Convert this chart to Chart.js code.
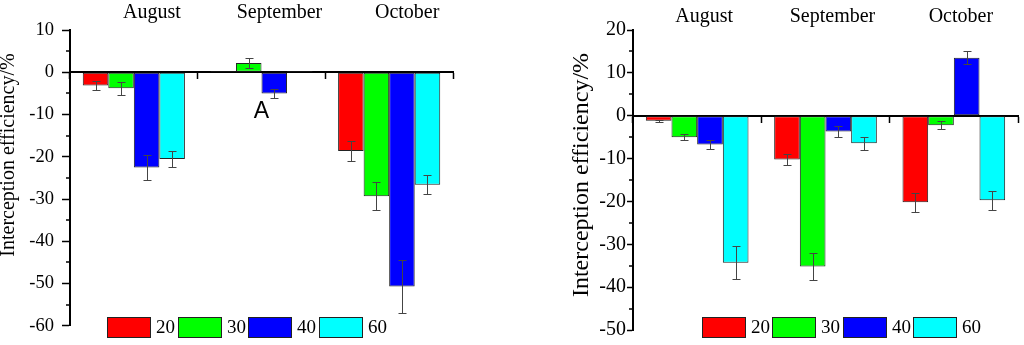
<!DOCTYPE html>
<html>
<head>
<meta charset="utf-8">
<script src="https://cdn.jsdelivr.net/npm/chart.js@4.4.1/dist/chart.umd.min.js"></script>
<style>
  html, body { margin: 0; padding: 0; background: #fff; }
  .panel { position: absolute; top: 0; width: 512px; height: 345px; }
  #panelA { left: 0; }
  #panelB { left: 512px; }
</style>
</head>
<body>
<div class="panel" id="panelA"><canvas id="chartA" width="512" height="345"></canvas></div>
<div class="panel" id="panelB"><canvas id="chartB" width="512" height="345"></canvas></div>
<script>
// categories and series
const months = ['August', 'September', 'October'];
const depths = ['20', '30', '40', '60'];
const barColors = ['#ff0000', '#00ff00', '#0000ff', '#00ffff'];

// left panel values (%) and errors
const leftVals20 = [-3.1, 0.3, -18.6];
const leftVals30 = [-3.8, 2.2, -29.3];
const leftVals40 = [-22.5, -5.0, -50.7];
const leftVals60 = [-20.5, 0.3, -26.6];
const leftErr20 = [1.1, 0, 2.3];
const leftErr30 = [1.5, 1.2, 3.3];
const leftErr40 = [3.0, 1.15, 6.2];
const leftErr60 = [1.8, 0, 2.2];

// right panel values (%) and errors
const rightVals20 = [-1.2, -10.2, -20.2];
const rightVals30 = [-5.0, -35.2, -2.2];
const rightVals40 = [-6.7, -3.7, 13.5];
const rightVals60 = [-34.3, -6.4, -19.7];
const rightErr20 = [0.2, 1.3, 2.2];
const rightErr30 = [0.7, 3.2, 1.0];
const rightErr40 = [1.0, 1.2, 1.5];
const rightErr60 = [3.8, 1.5, 2.2];

const leftTicks = { min: -60, max: 10 };
const rightTicks = { min: -50, max: 20 };
const axisTitle = 'Interception efficiency/%';

Chart.defaults.font.family = 'Liberation Serif';
Chart.defaults.color = '#000';

const errorBarPlugin = {
    id: 'errorBars',
    afterDatasetsDraw(chart, args, opts) {
        const ctx = chart.ctx;
        const y = chart.scales.y;
        ctx.save();
        ctx.strokeStyle = '#444';
        ctx.lineWidth = 1;
        chart.data.datasets.forEach((ds, i) => {
            const meta = chart.getDatasetMeta(i);
            meta.data.forEach((bar, j) => {
                const err = ds.errors[j];
                if (!err) return;
                const v = ds.data[j];
                const top = Math.round(y.getPixelForValue(v + err)) + 0.5;
                const bot = Math.round(y.getPixelForValue(v - err)) + 0.5;
                const x = Math.round(bar.x) + 0.5;
                ctx.beginPath();
                ctx.moveTo(x, top); ctx.lineTo(x, bot);
                ctx.moveTo(x - 4, top); ctx.lineTo(x + 4, top);
                ctx.moveTo(x - 4, bot); ctx.lineTo(x + 4, bot);
                ctx.stroke();
            });
        });
        ctx.restore();
    }
};

// minor ticks, rotated axis title, legend and the panel note
const decorPlugin = {
    id: 'decor',
    afterDraw(chart, args, o) {
        const ctx = chart.ctx;
        const y = chart.scales.y;
        const area = chart.chartArea;
        ctx.save();
        ctx.strokeStyle = '#000';
        ctx.lineWidth = 1.5;
        for (let v = y.min + 5; v < y.max; v += 10) {
            const py = Math.round(y.getPixelForValue(v));
            ctx.beginPath();
            ctx.moveTo(area.left - o.minorLen, py);
            ctx.lineTo(area.left, py);
            ctx.stroke();
        }

        ctx.fillStyle = '#000';
        ctx.font = o.titleSize + 'px "Liberation Serif"';
        ctx.textAlign = 'center';
        ctx.textBaseline = 'alphabetic';
        ctx.translate(o.titleX, o.titleY);
        ctx.rotate(-Math.PI / 2);
        ctx.fillText(axisTitle, 0, 0);
        ctx.setTransform(1, 0, 0, 1, 0, 0);

        // legend
        ctx.font = '19px "Liberation Serif"';
        ctx.textAlign = 'left';
        ctx.textBaseline = 'middle';
        ctx.lineWidth = 1;
        ctx.strokeStyle = '#222';
        chart.data.datasets.forEach((ds, i) => {
            const lx = Math.round(o.legendX + i * o.legendStep);
            ctx.fillStyle = ds.backgroundColor;
            ctx.fillRect(lx, o.legendY, 43, 20);
            ctx.strokeRect(lx + 0.5, o.legendY + 0.5, 43, 20);
            ctx.fillStyle = '#000';
            ctx.fillText(ds.label, lx + 49, o.legendY + 11);
        });

        if (o.note) {
            ctx.font = '23px "Liberation Sans"';
            ctx.textAlign = 'center';
            ctx.textBaseline = 'middle';
            ctx.fillText(o.note.text, chart.scales.x.getPixelForValue(o.note.month), y.getPixelForValue(o.note.value));
        }
        ctx.restore();
    }
};

function makeDatasets(vals, errs) {
    return depths.map((d, i) => ({
        label: d,
        data: vals[i],
        errors: errs[i],
        backgroundColor: barColors[i],
        borderColor: '#222',
        borderWidth: 1,
        borderSkipped: false,
        categoryPercentage: 0.8,
        barPercentage: 1.0
    }));
}

function makeChart(id, datasets, cfg) {
    const ctx = document.getElementById(id).getContext('2d');
    return new Chart(ctx, {
        type: 'bar',
        data: { labels: months, datasets: datasets },
        plugins: [errorBarPlugin, decorPlugin],
        options: {
            responsive: false,
            animation: false,
            layout: { padding: { left: 0, right: cfg.padRight, top: 0, bottom: 15 } },
            plugins: {
                legend: { display: false },
                tooltip: { enabled: false },
                decor: cfg.decor
            },
            scales: {
                x: {
                    type: 'category',
                    position: 'top',
                    offset: true,
                    grid: { display: false, drawTicks: false },
                    border: { display: false },
                    ticks: {
                        font: { size: 20 },
                        color: '#000',
                        labelOffset: cfg.labelOffset,
                        padding: cfg.labelPad,
                        maxRotation: 0
                    },
                    afterFit(s) { s.height = 30; }
                },
                x2: {
                    type: 'category',
                    position: { y: 0 },
                    offset: true,
                    grid: { offset: true, drawOnChartArea: false, drawTicks: true, tickLength: 6, tickWidth: 1.5, tickColor: '#000' },
                    border: { color: '#000', width: 2 },
                    ticks: { display: false }
                },
                y: {
                    min: cfg.range.min,
                    max: cfg.range.max,
                    ticks: {
                        stepSize: 10,
                        font: { size: cfg.tickSize },
                        color: '#000',
                        padding: cfg.tickPad
                    },
                    grid: { drawOnChartArea: false, drawTicks: true, tickLength: cfg.tickLen, tickWidth: 1.5, tickColor: '#000' },
                    border: { color: '#000', width: 2 },
                    afterFit(s) { s.width = cfg.axisWidth; }
                }
            }
        }
    });
}

makeChart('chartA',
    makeDatasets([leftVals20, leftVals30, leftVals40, leftVals60], [leftErr20, leftErr30, leftErr40, leftErr60]),
    {
        padRight: 59, axisWidth: 70, range: leftTicks, tickSize: 18.5, tickPad: 8, tickLen: 8,
        labelOffset: 18, labelPad: 5,
        decor: {
            minorLen: 4, titleSize: 20, titleX: 14, titleY: 155,
            legendX: 107, legendStep: 70.7, legendY: 317,
            note: { text: 'A', month: 'September', value: -9.3 }
        }
    });

makeChart('chartB',
    makeDatasets([rightVals20, rightVals30, rightVals40, rightVals60], [rightErr20, rightErr30, rightErr40, rightErr60]),
    {
        padRight: 6, axisWidth: 121, range: rightTicks, tickSize: 20, tickPad: 1, tickLen: 6,
        labelOffset: 7, labelPad: 1,
        decor: {
            minorLen: 4, titleSize: 24, titleX: 76, titleY: 175,
            legendX: 190, legendStep: 70.4, legendY: 317,
            note: null
        }
    });
</script>
</body>
</html>
